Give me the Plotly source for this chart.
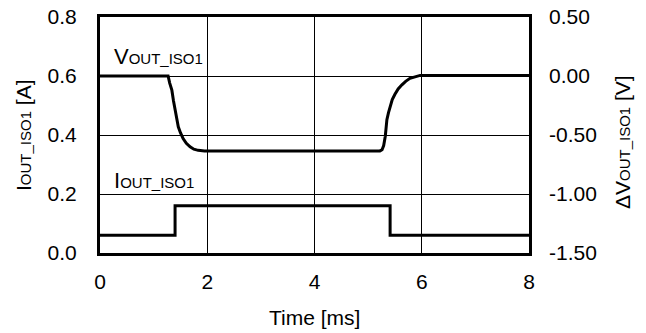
import plotly.graph_objects as go

# Data
t_current = [0.0, 1.40, 1.40, 5.41, 5.41, 8.0]
i_current = [0.06, 0.06, 0.16, 0.16, 0.06, 0.06]

t_voltage = [0.0, 1.27, 1.30, 1.34, 1.37, 1.40, 1.43, 1.46, 1.50, 1.55, 1.61, 1.68, 1.75, 1.83, 1.95,
             5.22, 5.26, 5.29, 5.32, 5.35, 5.38, 5.41, 5.45, 5.50, 5.56, 5.63, 5.70, 5.78, 5.87, 5.97, 8.0]
dv_voltage = [0.0, 0.0, -0.06, -0.12, -0.21, -0.29, -0.37, -0.43, -0.48, -0.53, -0.57, -0.60, -0.62, -0.63, -0.635,
              -0.635, -0.625, -0.59, -0.51, -0.37, -0.31, -0.26, -0.20, -0.155, -0.11, -0.075, -0.045, -0.02, -0.005, 0.005, 0.005]

x_ticks = [0, 2, 4, 6, 8]
y_left_ticks = [0.0, 0.2, 0.4, 0.6, 0.8]
y_left_text = ["0.0", "0.2", "0.4", "0.6", "0.8"]
y_right_ticks = [-1.5, -1.0, -0.5, 0.0, 0.5]
y_right_text = ["-1.50", "-1.00", "-0.50", "0.00", "0.50"]

FONT = "Liberation Sans, Arial, sans-serif"
FS = 21
SMALL = 15

fig = go.Figure()
fig.add_trace(go.Scatter(x=t_current, y=i_current, mode="lines",
                         line=dict(color="black", width=3), yaxis="y", showlegend=False))
fig.add_trace(go.Scatter(x=t_voltage, y=dv_voltage, mode="lines",
                         line=dict(color="black", width=3), yaxis="y2", showlegend=False))

fig.update_layout(
    width=646, height=333,
    margin=dict(l=100, r=117, t=17, b=80),
    paper_bgcolor="white", plot_bgcolor="white",
    font=dict(family=FONT, size=FS, color="black"),
    xaxis=dict(range=[0, 8], tickvals=x_ticks, showgrid=True, gridcolor="black", gridwidth=1,
               showline=True, linecolor="black", linewidth=3, mirror=True, zeroline=False,
               ticks="", ticklabelstandoff=8, tickfont=dict(size=FS), automargin=False),
    yaxis=dict(range=[0, 0.8], tickvals=y_left_ticks, ticktext=y_left_text, showgrid=True,
               gridcolor="black", gridwidth=1, showline=True, linecolor="black", linewidth=3,
               mirror=True, zeroline=False, ticks="", ticklabelstandoff=16, tickfont=dict(size=FS),
               automargin=False),
    yaxis2=dict(range=[-1.5, 0.5], tickvals=y_right_ticks, ticktext=y_right_text, overlaying="y",
                side="right", showgrid=False, zeroline=False, showline=False, ticks="",
                ticklabelstandoff=19, tickfont=dict(size=FS), automargin=False),
)

s = f'<span style="font-size:{SMALL}px">'
fig.add_annotation(x=0.22, y=0.665, xref="x", yref="y", xanchor="left", yanchor="middle",
                   text=f"V{s}OUT_ISO1</span>", showarrow=False, font=dict(size=FS + 1))
fig.add_annotation(x=0.22, y=0.247, xref="x", yref="y", xanchor="left", yanchor="middle",
                   text=f"I{s}OUT_ISO1</span>", showarrow=False, font=dict(size=FS + 1))

fig.add_annotation(x=0.5, y=0, xref="paper", yref="paper", yshift=-64, xanchor="center",
                   yanchor="middle", text="Time [ms]", showarrow=False, font=dict(size=FS))
fig.add_annotation(x=0, y=0.5, xref="paper", yref="paper", xshift=-77, xanchor="center",
                   yanchor="middle", textangle=-90, text=f"I{s}OUT_ISO1</span> [A]",
                   showarrow=False, font=dict(size=FS))
fig.add_annotation(x=1, y=0.47, xref="paper", yref="paper", xshift=93, xanchor="center",
                   yanchor="middle", textangle=-90, text=f"ΔV{s}OUT_ISO1</span> [V]",
                   showarrow=False, font=dict(size=FS))

fig.write_html("out.html", config={"displayModeBar": False},
               post_script="document.body.style.margin='0';")
